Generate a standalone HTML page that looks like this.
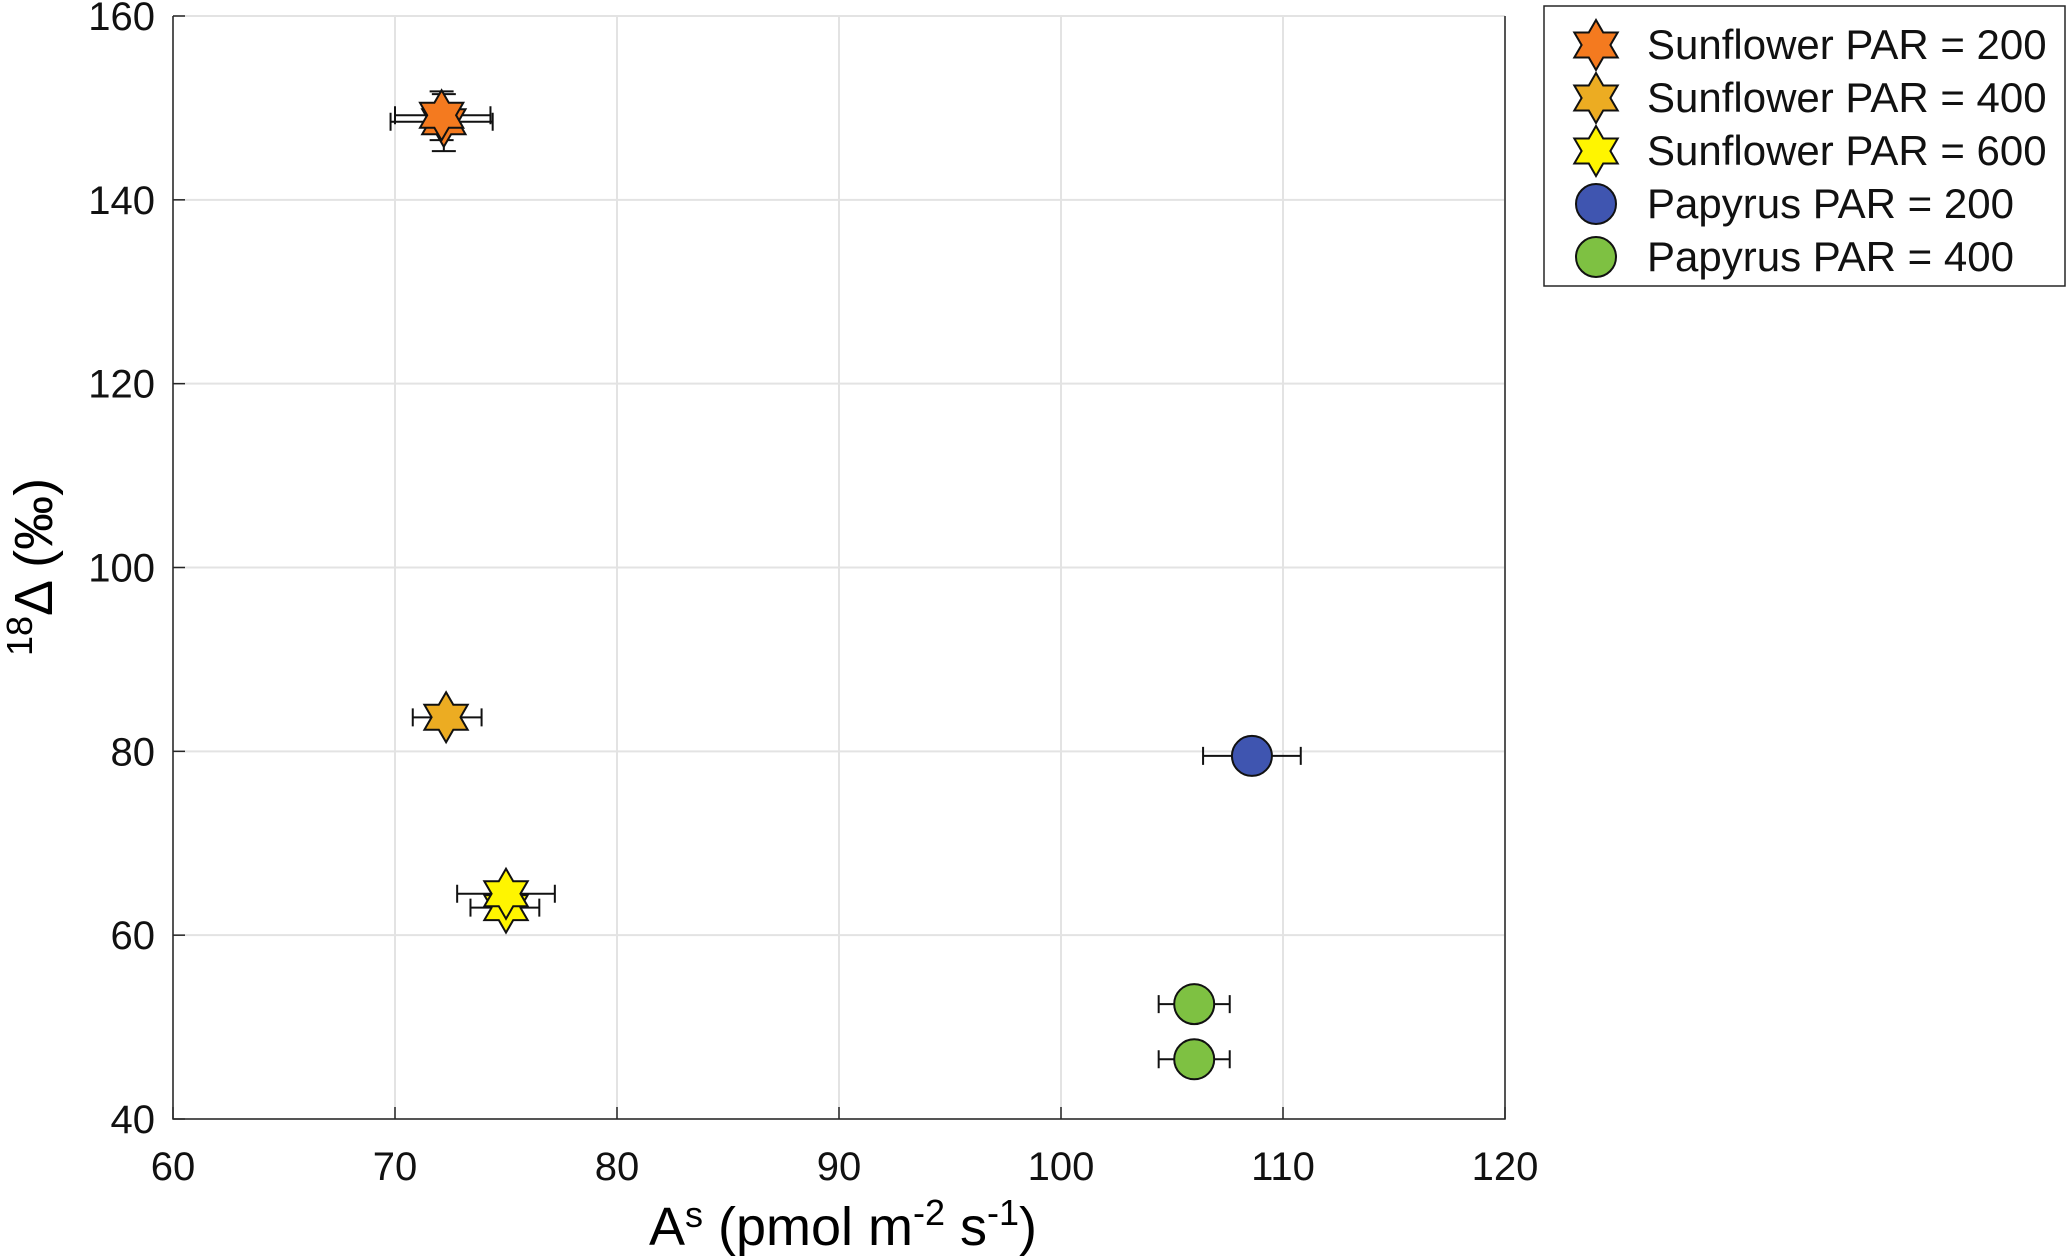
<!DOCTYPE html>
<html><head><meta charset="utf-8"><style>
html,body{margin:0;padding:0;background:#fff;}
svg{display:block;font-family:"Liberation Sans",sans-serif;}
</style></head><body>
<svg id="chart" width="2067" height="1257" viewBox="0 0 2067 1257">
<rect width="2067" height="1257" fill="#fff"/>
<g id="grid"></g>
<g id="axes"></g>
<g id="marks"></g>
<text x="843" y="1245" font-size="54" text-anchor="middle">A<tspan font-size="36" dy="-18">s</tspan><tspan dy="18"> (pmol m</tspan><tspan font-size="36" dy="-20">-2</tspan><tspan dy="20"> s</tspan><tspan font-size="36" dy="-20">-1</tspan><tspan dy="20">)</tspan></text>
<text transform="translate(52,567) rotate(-90)" font-size="54" text-anchor="middle"><tspan font-size="36" dy="-20">18</tspan><tspan dy="20">Δ (‰)</tspan></text>
<g id="legend"></g>
</svg>
<script>
const xTicks=[60,70,80,90,100,110,120];
const yTicks=[40,60,80,100,120,140,160];
const seriesNames=["Sunflower PAR = 200","Sunflower PAR = 400","Sunflower PAR = 600","Papyrus PAR = 200","Papyrus PAR = 400"];
const seriesColors=["#F47A1F","#ECAC22","#FFF500","#3F55B0","#7EC142"];
const seriesShapes=["star","star","star","circle","circle"];
const s1x=[72.2,72.1], s1y=[148.5,149.2], s1xl=[69.8,70.0], s1xh=[74.4,74.3], s1yl=[145.3,146.5], s1yh=[151.5,151.8];
const s2x=[72.3], s2y=[83.7], s2xl=[70.8], s2xh=[73.9], s2yl=[83.7], s2yh=[83.7];
const s3x=[75.0,75.0], s3y=[63.0,64.5], s3xl=[73.4,72.8], s3xh=[76.5,77.2], s3yl=[63,64.5], s3yh=[63,64.5];
const p1x=[108.6], p1y=[79.5], p1xl=[106.4], p1xh=[110.8], p1yl=[79.5], p1yh=[79.5];
const p2x=[106.0,106.0], p2y=[52.5,46.5], p2xl=[104.4,104.4], p2xh=[107.6,107.6], p2yl=[52.5,46.5], p2yh=[52.5,46.5];
const seriesData=[[s1x,s1y,s1xl,s1xh,s1yl,s1yh],[s2x,s2y,s2xl,s2xh,s2yl,s2yh],[s3x,s3y,s3xl,s3xh,s3yl,s3yh],[p1x,p1y,p1xl,p1xh,p1yl,p1yh],[p2x,p2y,p2xl,p2xh,p2yl,p2yh]];
const L=173,R=1505,T=16,B=1119;
const X=v=>L+(v-60)/(120-60)*(R-L);
const Y=v=>B-(v-40)/(160-40)*(B-T);
const NS="http://www.w3.org/2000/svg";
function mk(tag,attrs,parent){const e=document.createElementNS(NS,tag);for(const k in attrs)e.setAttribute(k,attrs[k]);parent.appendChild(e);return e;}
const grid=document.getElementById('grid'),axes=document.getElementById('axes'),marks=document.getElementById('marks'),legend=document.getElementById('legend');
xTicks.forEach(t=>{
 const l=mk('line',{x1:X(t),x2:X(t),y1:T,y2:B,stroke:'#e3e3e3','stroke-width':2},grid);
 
 
 const tk=mk('line',{x1:X(t),x2:X(t),y1:B,y2:B-12,stroke:'#262626','stroke-width':1.5},axes);
 
 
 const tx=mk('text',{x:X(t),y:1180,'font-size':40,'text-anchor':'middle',fill:'#111'},axes);
 tx.textContent=t;
 
 
});
yTicks.forEach(t=>{
 const l=mk('line',{x1:L,x2:R,y1:Y(t),y2:Y(t),stroke:'#e3e3e3','stroke-width':2},grid);
 
 
 const tk=mk('line',{x1:L,x2:L+12,y1:Y(t),y2:Y(t),stroke:'#262626','stroke-width':1.5},axes);
 
 
 const tx=mk('text',{x:155,y:Y(t)+14,'font-size':40,'text-anchor':'end',fill:'#111'},axes);
 tx.textContent=t;
 
 
});
const ax=mk('path',{d:`M${L},${T} V${B} H${R} V${T}`,fill:'none',stroke:'#262626','stroke-width':1.5},axes);


function starPts(cx,cy,ro){const ri=ro/Math.sqrt(3);let p=[];for(let i=0;i<12;i++){const a=-Math.PI/2+i*Math.PI/6;const r=i%2?ri:ro;p.push((cx+r*Math.cos(a)).toFixed(1)+','+(cy+r*Math.sin(a)).toFixed(1));}return p.join(' ');}
function marker(shape,cx,cy,color,parent){
 if(shape==='star') return mk('polygon',{points:starPts(cx,cy,25),fill:color,stroke:'#111','stroke-width':2},parent);
 return mk('circle',{cx:cx,cy:cy,r:20,fill:color,stroke:'#111','stroke-width':2},parent);
}
seriesData.forEach((d,si)=>{
 const [xs,ys,xl,xh,yl,yh]=d;
 xs.forEach((xv,i)=>{
  const g=mk('g',{},marks);
  
  
  const cy=Y(ys[i]),cx=X(xv);
  mk('path',{d:`M${X(xl[i])},${cy} H${X(xh[i])} M${X(xl[i])},${cy-9} V${cy+9} M${X(xh[i])},${cy-9} V${cy+9}`,stroke:'#111','stroke-width':2,fill:'none'},g);
  if(yl[i]!==yh[i]) mk('path',{d:`M${cx},${Y(yl[i])} V${Y(yh[i])} M${cx-12},${Y(yl[i])} H${cx+12} M${cx-12},${Y(yh[i])} H${cx+12}`,stroke:'#111','stroke-width':2,fill:'none'},g);
 });
});
seriesData.forEach((d,si)=>{
 const [xs,ys]=d;
 xs.forEach((xv,i)=>{
  const m=marker(seriesShapes[si],X(xv),Y(ys[i]),seriesColors[si],marks);
  
  
 });
});
const box=mk('rect',{x:1544,y:6,width:521,height:280,fill:'#fff',stroke:'#262626','stroke-width':1.5},legend);


seriesNames.forEach((n,i)=>{
 const cy=45+i*53;
 const g=mk('g',{},legend);
 
 
 marker(seriesShapes[i],1596,cy,seriesColors[i],g);
 const t=mk('text',{x:1647,y:cy+14,'font-size':42,fill:'#111'},g);
 t.textContent=n;
});
</script>
</body></html>
